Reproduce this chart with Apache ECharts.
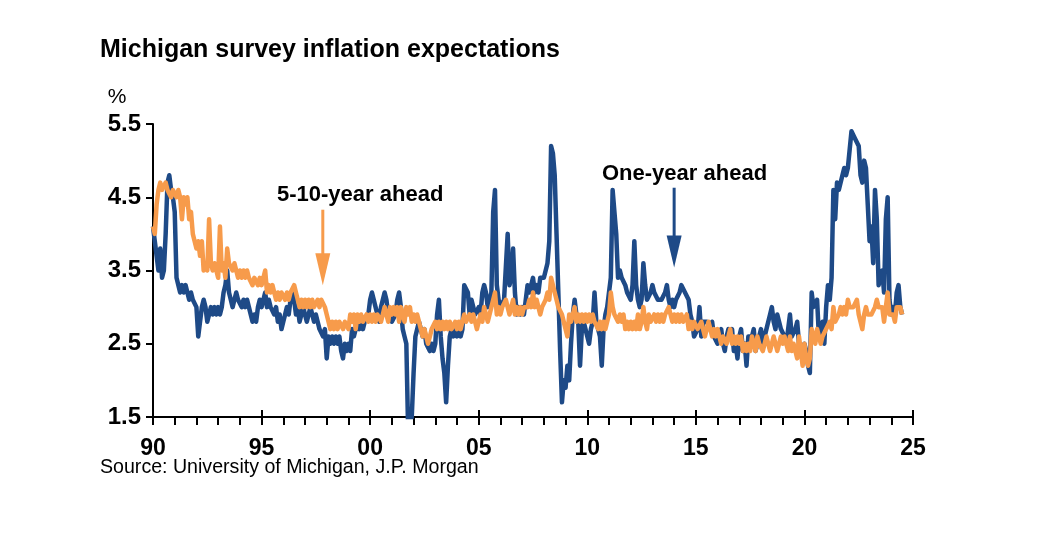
<!DOCTYPE html>
<html><head><meta charset="utf-8">
<script src="https://cdn.jsdelivr.net/npm/echarts@6/dist/echarts.min.js"></script>
<style>html,body{margin:0;padding:0;background:#fff}#c{width:1057px;height:551px}</style>
</head><body><div id="c"></div>
<script>
// Monthly data, starting January 1990
const startYear = 1990;

// One-year ahead inflation expectations (%)
const oneYear1990s = [
  4.1,3.9,3.7,3.5,3.8,3.4,3.5,4.0,4.7,4.8,4.6,4.5,
  4.3,3.4,3.3,3.2,3.3,3.2,3.3,3.2,3.1,3.2,3.1,3.1,
  3.0,2.6,2.8,3.0,3.1,3.0,2.8,2.9,3.0,2.9,3.0,2.9,
  3.0,2.9,3.0,3.2,3.3,3.5,3.2,3.1,3.0,3.1,3.2,3.1,
  3.1,3.0,3.1,3.0,3.1,3.0,2.9,2.8,2.9,2.8,3.0,3.1,
  3.0,3.1,3.2,3.0,3.1,3.0,3.0,2.9,3.0,2.8,2.9,2.7,
  2.8,2.9,3.0,2.9,3.1,3.2,3.1,2.9,3.0,2.8,2.9,3.0,
  2.9,2.8,2.9,3.0,2.9,2.8,2.9,2.8,2.7,2.7,2.6,2.7,
  2.3,2.6,2.5,2.6,2.5,2.6,2.5,2.6,2.4,2.3,2.5,2.4,
  2.5,2.4,2.7,2.6,2.7,2.8,2.7,2.8,2.7,2.8,2.8,2.9
];
const oneYear2000s = [
  3.1,3.2,3.2,3.0,2.9,2.8,3.0,3.1,3.2,3.1,2.9,2.9,
  2.8,2.8,2.9,3.1,3.2,3.0,2.7,2.6,2.5,1.3,1.4,1.5,
  2.1,2.6,2.7,2.8,2.7,2.6,2.7,2.5,2.5,2.4,2.5,2.4,
  2.5,2.9,3.1,2.6,2.3,2.1,1.7,2.2,2.6,2.7,2.6,2.7,
  2.6,2.7,2.6,2.7,3.3,3.3,3.2,2.9,3.1,3.0,2.9,2.9,
  3.0,2.9,3.2,3.3,3.2,3.0,3.1,3.2,4.3,4.6,3.3,3.1,
  3.0,3.0,3.1,3.1,4.0,3.3,3.4,3.8,3.2,2.9,3.0,2.9,
  3.0,2.9,3.1,3.3,3.2,3.3,3.4,3.2,3.3,3.2,3.4,3.4,
  3.4,3.5,3.6,3.9,5.2,5.1,4.8,4.0,3.2,2.4,1.7,2.0,
  1.9,2.2,2.0,2.5,2.9,3.1,2.9,2.8,2.2,2.7,2.8,2.7
];
const oneYear2010s = [
  2.6,2.5,2.7,2.8,3.2,2.8,2.7,2.6,2.2,2.7,2.9,3.0,
  3.0,3.4,4.6,4.6,4.0,3.4,3.5,3.4,3.4,3.3,3.2,3.2,
  3.1,3.3,3.9,3.3,3.1,3.0,3.1,3.6,3.3,3.1,3.1,3.2,
  3.3,3.2,3.2,3.1,3.1,3.1,3.1,3.2,3.3,3.1,3.0,3.1,
  3.0,3.1,3.1,3.2,3.3,3.3,3.2,3.2,3.1,2.9,2.8,2.6,
  2.6,2.7,3.0,2.6,2.8,2.8,2.8,2.8,2.7,2.8,2.6,2.6,
  2.5,2.5,2.7,2.5,2.4,2.6,2.7,2.6,2.7,2.4,2.5,2.3,
  2.6,2.7,2.4,2.5,2.2,2.6,2.6,2.6,2.7,2.4,2.5,2.5,
  2.7,2.5,2.6,2.7,2.8,2.9,3.0,2.8,2.7,2.9,2.8,2.7,
  2.7,2.6,2.5,2.5,2.9,2.6,2.6,2.7,2.8,2.5,2.5,2.3
];
const oneYear2020s = [
  2.5,2.4,2.2,2.1,3.2,3.0,3.0,3.1,2.6,2.6,2.8,2.5,
  3.0,3.3,3.1,3.4,4.6,4.2,4.7,4.6,4.6,4.8,4.9,4.8,
  4.9,4.9,5.4,5.4,5.3,5.3,5.2,4.8,4.7,5.0,4.9,4.4,
  3.9,4.1,3.6,4.6,4.2,3.3,3.4,3.5,3.2,4.2,4.5,3.1,
  2.9,3.0,2.9,3.2,3.3,3.0,2.9
];

// 5-10-year ahead inflation expectations (%)
const fiveTen1990s = [
  4.1,4.0,4.4,4.6,4.7,4.6,4.6,4.7,4.6,4.6,4.5,4.6,
  4.6,4.5,4.6,4.5,4.2,4.5,4.4,4.5,4.2,4.3,4.0,3.9,
  3.8,3.9,3.7,3.9,3.5,3.6,3.5,4.2,3.6,3.5,3.6,3.5,
  3.4,4.1,3.5,3.6,3.4,3.8,3.6,3.6,3.5,3.6,3.5,3.4,
  3.5,3.4,3.5,3.4,3.5,3.4,3.4,3.3,3.4,3.4,3.3,3.4,
  3.3,3.3,3.5,3.2,3.3,3.2,3.3,3.2,3.1,3.2,3.1,3.2,
  3.2,3.1,3.2,3.1,3.2,3.2,3.3,3.2,3.1,3.0,3.1,3.0,
  3.1,3.0,3.1,3.0,3.1,3.0,3.0,3.1,3.0,3.1,3.1,3.0,
  2.9,2.8,2.7,2.8,2.7,2.8,2.7,2.8,2.8,2.7,2.8,2.8,
  2.7,2.9,2.8,2.9,2.7,2.9,2.8,2.9,2.8,2.8,2.9,2.8
];
const fiveTen2000s = [
  2.9,2.8,2.9,2.8,2.9,2.9,2.8,2.9,3.0,2.9,2.8,3.0,
  2.9,3.0,2.9,3.0,2.8,3.0,2.9,2.8,3.0,2.9,3.0,2.8,
  2.9,2.8,2.9,2.8,2.8,2.6,2.7,2.7,2.5,2.6,2.7,2.7,
  2.8,2.7,2.8,2.7,2.8,2.7,2.8,2.7,2.8,2.7,2.7,2.8,
  2.7,2.8,2.7,2.8,2.9,2.8,2.8,2.9,2.8,2.9,2.8,2.7,
  2.8,2.9,2.8,3.0,2.9,2.8,2.9,3.0,3.1,3.2,2.9,3.0,
  2.9,3.0,3.0,3.1,3.0,2.9,3.0,3.1,2.9,3.0,2.9,3.0,
  2.9,3.0,3.0,3.0,3.1,3.0,3.2,3.0,3.1,3.0,2.9,3.0,
  3.0,3.1,3.2,3.1,3.4,3.3,3.2,3.1,3.0,3.0,2.9,2.9,
  2.7,2.6,2.9,2.8,2.9,3.0,2.8,2.9,2.8,2.9,2.8,2.9
];
const fiveTen2010s = [
  2.8,2.9,2.8,2.9,2.8,2.8,2.7,2.8,2.7,2.8,2.7,2.8,
  2.9,3.2,3.0,2.9,2.9,2.8,2.9,2.8,2.9,2.7,2.8,2.7,
  2.8,2.7,2.8,2.7,2.9,2.7,2.8,3.0,2.8,2.7,2.9,2.8,
  2.8,2.9,2.8,2.9,2.8,2.9,2.8,2.9,2.9,3.0,2.9,2.8,
  2.9,2.8,2.9,2.8,2.9,2.8,2.8,2.9,2.7,2.8,2.7,2.8,
  2.8,2.7,2.7,2.8,2.7,2.6,2.7,2.8,2.7,2.6,2.7,2.6,
  2.7,2.6,2.5,2.6,2.6,2.5,2.6,2.7,2.5,2.6,2.5,2.6,
  2.5,2.6,2.4,2.5,2.4,2.5,2.4,2.6,2.5,2.4,2.6,2.5,
  2.5,2.4,2.5,2.6,2.5,2.4,2.5,2.6,2.5,2.4,2.5,2.6,
  2.5,2.6,2.5,2.4,2.6,2.4,2.5,2.4,2.3,2.6,2.4,2.2
];
const fiveTen2020s = [
  2.5,2.3,2.2,2.3,2.7,2.6,2.5,2.7,2.6,2.5,2.6,2.6,
  2.7,2.7,2.8,2.7,3.0,2.8,2.8,2.9,3.0,2.9,3.0,2.9,
  3.1,3.0,3.0,3.0,3.0,3.1,2.9,2.9,2.7,2.9,3.0,2.9,
  2.9,2.9,2.9,3.0,3.1,3.0,3.0,3.0,2.8,3.0,3.2,2.9,
  2.9,2.9,2.8,3.0,3.0,3.0,2.9
];

const xTickLabels = ['90','95','00','05','10','15','20','25'];
const yTickValues = [1.5, 2.5, 3.5, 4.5, 5.5];
const seriesNames = ['One-year ahead', '5-10-year ahead'];

function toPairs(vals) { return vals.map((v, i) => [startYear + i / 12, v]); }
const oneYear = toPairs([].concat(oneYear1990s, oneYear2000s, oneYear2010s, oneYear2020s));
const fiveTen = toPairs([].concat(fiveTen1990s, fiveTen2000s, fiveTen2010s, fiveTen2020s));

const FONT = "'Liberation Sans', Arial, sans-serif";
const BLUE = '#1e4a87';
const ORANGE = '#f79b4b';

const chart = echarts.init(document.getElementById('c'), null, { renderer: 'canvas' });
const xMin = 1990, xMax = 2025;
const option = {
  animation: false,
  backgroundColor: '#fff',
  grid: { left: 153, right: 144, top: 124, bottom: 134, containLabel: false },
  xAxis: [{
    type: 'value', min: xMin, max: xMax, interval: 5, position: 'bottom',
    axisLine: { show: true, lineStyle: { color: '#000', width: 2 } },
    axisTick: { show: true, inside: false, length: 8, lineStyle: { color: '#000', width: 2 } },
    minorTick: { show: true, splitNumber: 5, length: 8, lineStyle: { color: '#000', width: 2 } },
    axisLabel: {
      margin: 20, color: '#000', fontFamily: FONT, fontWeight: 'bold', fontSize: 23,
      formatter: v => xTickLabels[Math.round((v - xMin) / 5)] || ''
    },
    splitLine: { show: false }
  }, {
    type: 'value', min: xMin, max: xMax, interval: 5, position: 'bottom', gridIndex: 0,
    axisLine: { show: false },
    axisTick: { show: true, inside: true, length: 7, lineStyle: { color: '#000', width: 2 } },
    axisLabel: { show: false },
    splitLine: { show: false }
  }],
  yAxis: {
    type: 'value', min: 1.5, max: 5.5,
    axisLine: { show: true, lineStyle: { color: '#000', width: 2 } },
    axisTick: { show: true, inside: false, length: 7, customValues: yTickValues, lineStyle: { color: '#000', width: 2 } },
    axisLabel: {
      margin: 12, color: '#000', fontFamily: FONT, fontWeight: 'bold', fontSize: 24,
      customValues: yTickValues, formatter: v => v.toFixed(1)
    },
    splitLine: { show: false }
  },
  series: [{
    name: seriesNames[0], type: 'line', data: oneYear, showSymbol: false, symbol: 'none',
    lineStyle: { color: BLUE, width: 4.5, join: 'round' }, itemStyle: { color: BLUE }, clip: true, z: 2
  }, {
    name: seriesNames[1], type: 'line', data: fiveTen, showSymbol: false, symbol: 'none',
    lineStyle: { color: ORANGE, width: 4.5, join: 'round' }, itemStyle: { color: ORANGE }, clip: true, z: 3
  }]
};
chart.setOption(option);

function arrow(xv, yTop, yTip, color) {
  const p0 = chart.convertToPixel({ gridIndex: 0 }, [xv, yTop]);
  const p1 = chart.convertToPixel({ gridIndex: 0 }, [xv, yTip]);
  const headH = 32, headW = 15;
  return [{
    type: 'line', z: 10,
    shape: { x1: p0[0], y1: p0[1], x2: p1[0], y2: p1[1] - headH + 2 },
    style: { stroke: color, lineWidth: 3 }
  }, {
    type: 'polygon', z: 10,
    shape: { points: [[p1[0] - headW / 2, p1[1] - headH], [p1[0] + headW / 2, p1[1] - headH], [p1[0], p1[1]]] },
    style: { fill: color }
  }];
}

const graphics = [
  { type: 'text', x: 100, y: 50, z: 10, style: { text: 'Michigan survey inflation expectations', font: "bold 25px " + FONT, fill: '#000', align: 'left', verticalAlign: 'middle' } },
  { type: 'text', x: 117, y: 97, z: 10, style: { text: '%', font: "21px " + FONT, fill: '#000', align: 'center', verticalAlign: 'middle' } },
  { type: 'text', x: 100, y: 468, z: 10, style: { text: 'Source: University of Michigan, J.P. Morgan', font: "19.6px " + FONT, fill: '#000', align: 'left', verticalAlign: 'middle' } },
  { type: 'text', x: 277, y: 195, z: 10, style: { text: seriesNames[1], font: "bold 22px " + FONT, fill: '#000', align: 'left', verticalAlign: 'middle' } },
  { type: 'text', x: 602, y: 174, z: 10, style: { text: seriesNames[0], font: "bold 22px " + FONT, fill: '#000', align: 'left', verticalAlign: 'middle' } }
].concat(arrow(1997.82, 4.33, 3.30, ORANGE), arrow(2014.0, 4.63, 3.54, BLUE));

chart.setOption({ graphic: graphics });
</script>
</body></html>
